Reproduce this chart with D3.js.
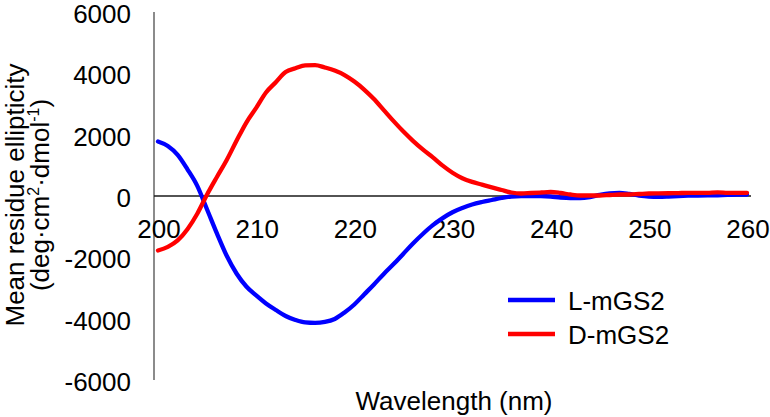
<!DOCTYPE html>
<html><head><meta charset="utf-8">
<script src="https://cdn.jsdelivr.net/npm/d3@7"></script>
<style>body{margin:0;background:#fff}svg text{font-family:"Liberation Sans",Arial,sans-serif;fill:#000}</style>
</head><body><svg id="c" width="770" height="417"></svg>
<script>
const wavelengths = d3.range(200, 261);
const lValues = [1777,1630,1340,870,330,-440,-1220,-1950,-2527,-2950,
  -3244,-3505,-3716,-3912,-4042,-4124,-4140,-4108,-4010,-3798,
  -3537,-3211,-2885,-2540,-2220,-1880,-1540,-1230,-950,-720,
  -530,-391,-277,-196,-130,-65,-16,0,0,0,
  -16,-49,-65,-65,-33,33,82,98,65,16,
  -16,-26,-16,0,10,15,20,25,35,45,49];
const dValues = [-1776,-1660,-1450,-1082,-577,49,619,1174,1800,2396,
  2872,3374,3710,4042,4163,4260,4270,4190,4091,3945,
  3733,3472,3160,2800,2440,2100,1790,1510,1260,990,
  760,580,460,370,280,196,114,82,98,114,
  130,98,49,16,16,16,33,49,49,65,
  82,85,90,95,100,100,105,120,105,100,105];
const seriesNames = ["L-mGS2", "D-mGS2"];
const seriesColors = ["#0000ff", "#ff0000"];
const xTicks = [200,210,220,230,240,250,260];
const yTicks = [-6000,-4000,-2000,0,2000,4000,6000];

const svg = d3.select("#c");
const x = d3.scaleLinear().domain([200,260]).range([158,747]);
const y = d3.scaleLinear().domain([-6000,6000]).range([380,12]);
const FS = 26;

svg.append("line").attr("x1",154).attr("x2",154).attr("y1",y(6000)).attr("y2",y(-6000))
  .attr("stroke","#6e6e6e").attr("stroke-width",1.6);
svg.append("line").attr("x1",154).attr("x2",751).attr("y1",y(0)).attr("y2",y(0))
  .attr("stroke","#1a1a1a").attr("stroke-width",1.3);

svg.selectAll(".yt").data(yTicks).enter().append("text")
  .attr("x",131).attr("y",d=>y(d)+2).attr("dy","0.35em").attr("text-anchor","end")
  .attr("font-size",FS).text(d=>d);
svg.selectAll(".xt").data(xTicks).enter().append("text")
  .attr("x",d=>x(d)+1).attr("y",238).attr("text-anchor","middle")
  .attr("font-size",FS).text(d=>d);

const line = d3.line().x((d,i)=>x(wavelengths[i])).y(d=>y(d)).curve(d3.curveMonotoneX);
[lValues,dValues].forEach((vals,k)=>{
  svg.append("path").attr("d",line(vals)).attr("fill","none")
    .attr("stroke",seriesColors[k]).attr("stroke-width",4.3)
    .attr("stroke-linejoin","round").attr("stroke-linecap","round");
});

svg.append("text").attr("x",454).attr("y",410).attr("text-anchor","middle")
  .attr("font-size",FS).text("Wavelength (nm)");
const yt = svg.append("g").attr("transform","translate(24,195) rotate(-90)");
yt.append("text").attr("text-anchor","middle").attr("font-size",FS).text("Mean residue ellipticity");
const t2 = yt.append("text").attr("y",25).attr("text-anchor","middle").attr("font-size",FS);
t2.append("tspan").text("(deg·cm");
t2.append("tspan").attr("font-size",16).attr("dy",-10).text("2");
t2.append("tspan").attr("dy",10).text("·dmol");
t2.append("tspan").attr("font-size",16).attr("dy",-10).text("-1");
t2.append("tspan").attr("dy",10).text(")");

seriesNames.forEach((n,k)=>{
  const ly = 300 + k*34;
  svg.append("line").attr("x1",508).attr("x2",555).attr("y1",ly).attr("y2",ly)
    .attr("stroke",seriesColors[k]).attr("stroke-width",4.3);
  svg.append("text").attr("x",568).attr("y",ly+1).attr("dy","0.35em").attr("font-size",FS).text(n);
});
</script></body></html>
